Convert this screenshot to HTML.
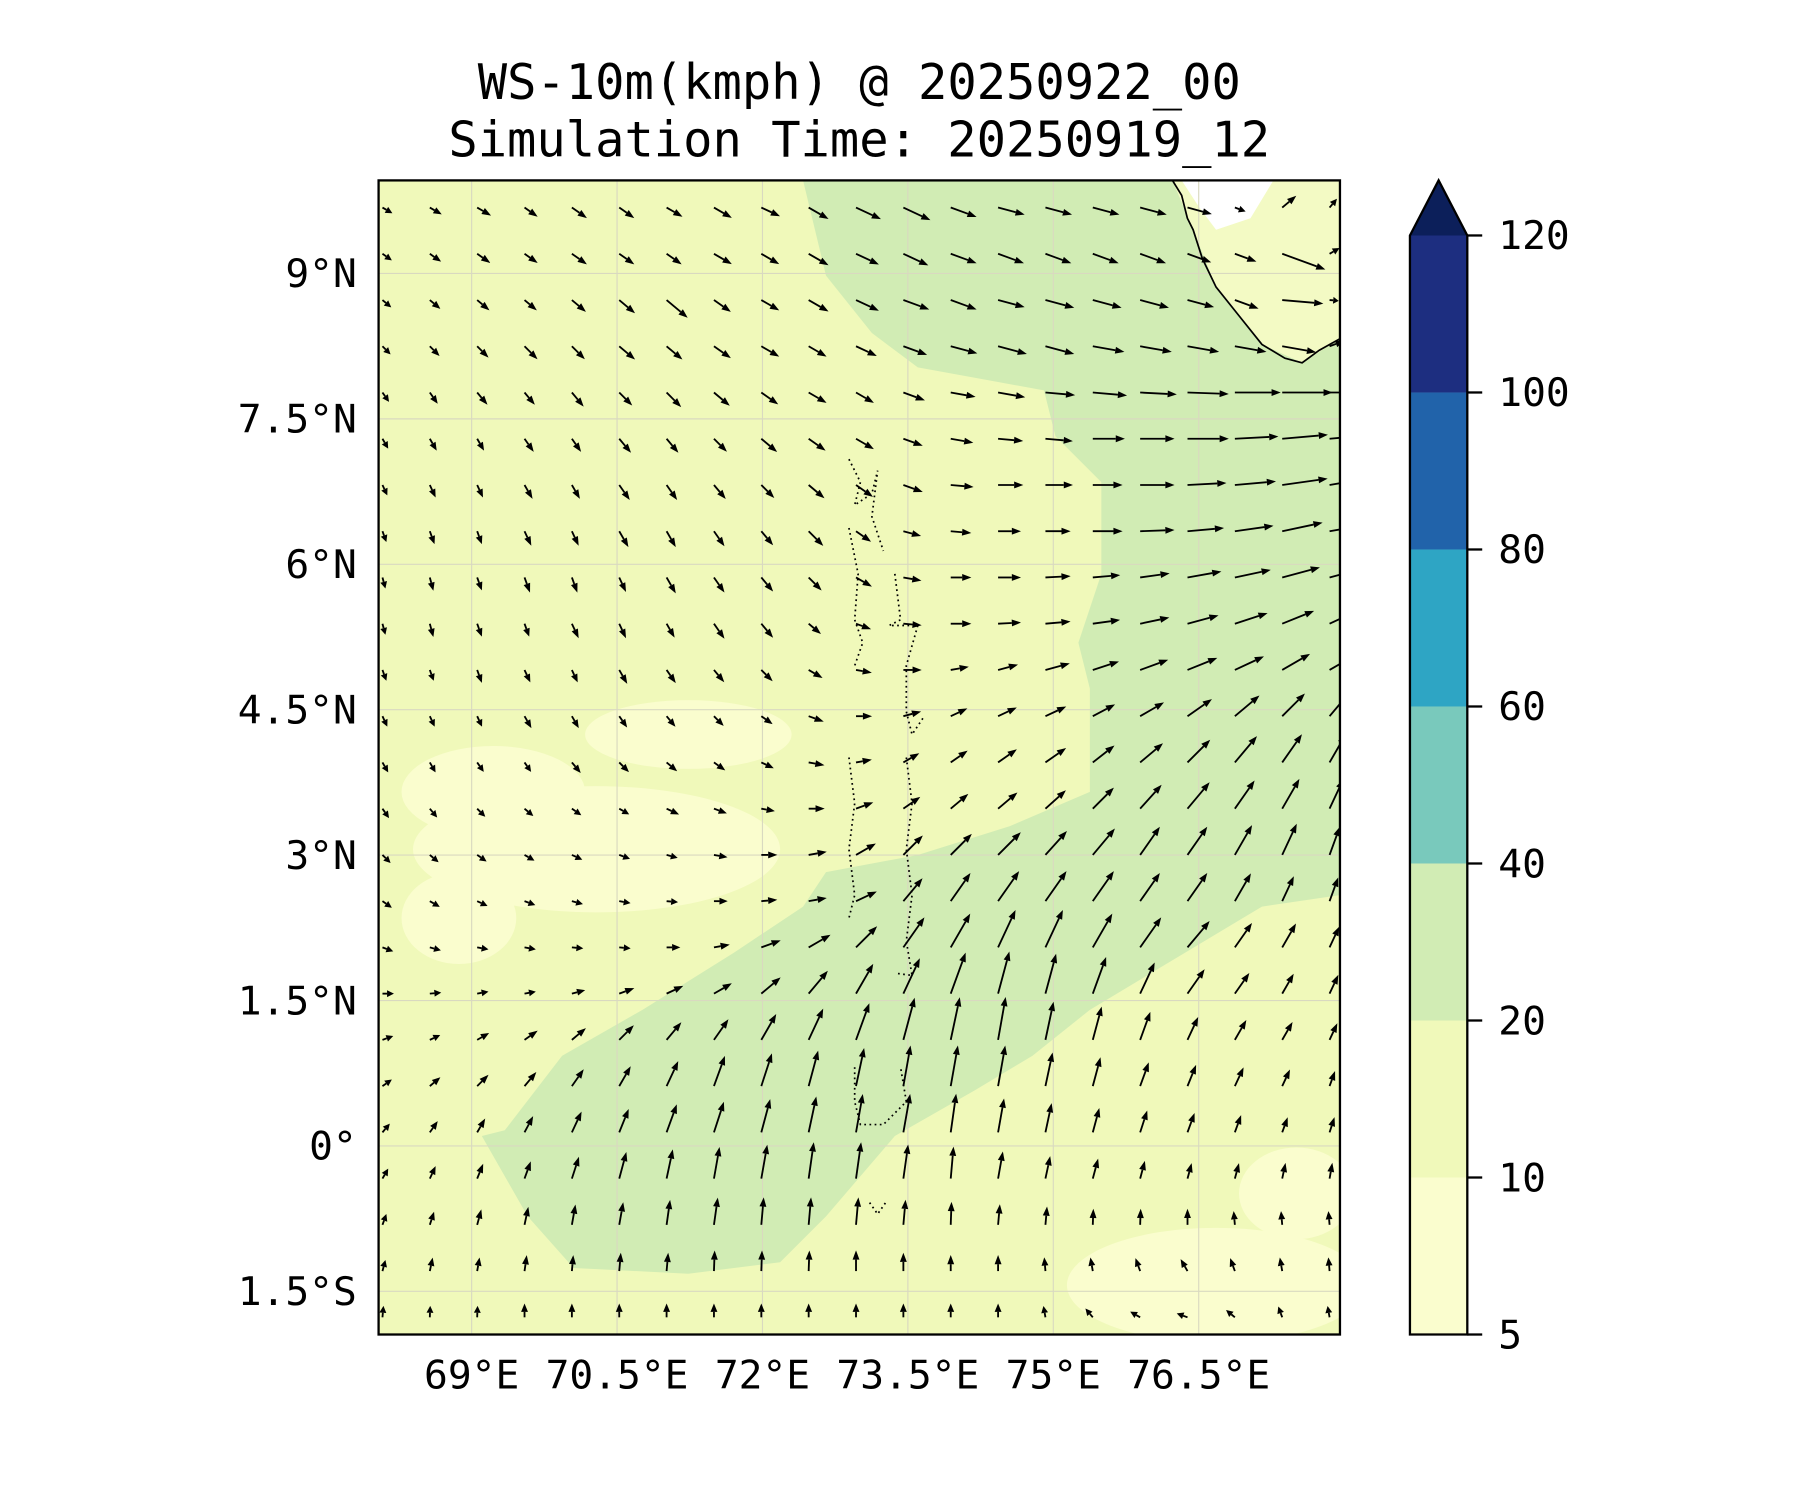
<!DOCTYPE html>
<html><head><meta charset="utf-8"><style>
html,body{margin:0;padding:0;background:#fff}
svg{display:block}
text{font-family:"DejaVu Sans Mono","Liberation Mono",monospace;fill:#000}
</style></head><body>
<svg id="chart" width="1800" height="1500" viewBox="0 0 1569 1307" xmlns="http://www.w3.org/2000/svg">
<text x="749" y="86" font-size="42.5" text-anchor="middle">WS-10m(kmph) @ 20250922_00</text>
<text x="749" y="136" font-size="42.5" text-anchor="middle">Simulation Time: 20250919_12</text>
<defs><clipPath id="mapclip"><rect x="330" y="157" width="838" height="1006"/></clipPath></defs>
<g id="map" clip-path="url(#mapclip)">
<rect x="330" y="157" width="838" height="1006" fill="#f0f9ba"/>
<g fill="#fafdce">
<ellipse cx="520" cy="740" rx="160" ry="55"/><ellipse cx="430" cy="690" rx="80" ry="40"/>
<ellipse cx="600" cy="640" rx="90" ry="30"/><ellipse cx="1060" cy="1120" rx="130" ry="50"/>
<ellipse cx="400" cy="800" rx="50" ry="40"/><ellipse cx="1130" cy="1040" rx="50" ry="40"/>
</g>
<polygon fill="#d1ecb4" points="700,157 1168,157 1168,780 1100,790 1000,850 950,880 900,920 850,950 780,990 720,1060 680,1100 600,1110 500,1105 460,1060 420,990 440,985 490,920 560,880 640,830 700,790 720,760 800,745 880,720 950,690 950,600 940,560 960,500 960,420 920,380 910,340 800,320 760,290 720,240"/>
<polygon fill="#f3fac4" points="1022,157 1168,157 1168,295 1135,316 1100,300 1060,250 1040,200"/>
<polygon fill="#ffffff" points="1030,157 1110,157 1090,190 1060,200 1045,180"/>
<g id="grid" stroke="#d9d9c0" stroke-width="1"></g>
<polyline fill="none" stroke="#000" stroke-width="1.5" points="1022,157 1030,170 1035,190 1040,200 1048,225 1060,250 1080,275 1100,300 1120,312 1135,316 1150,305 1168,295"/>
<g fill="none" stroke="#000" stroke-width="1.5" stroke-dasharray="1.5,3">
<polyline points="740,400 750,420 745,440 760,430 765,410 760,450 770,480"/>
<polyline points="740,460 748,500 745,540 752,560 745,580"/>
<polyline points="780,500 785,540 775,545 800,545 790,580 790,620 795,640 805,625"/>
<polyline points="740,660 745,700 740,740 745,780 740,800"/>
<polyline points="790,660 795,700 790,740 795,780 790,820 795,850 780,848"/>
<polyline points="745,930 745,960 750,980 770,980 790,960 785,930"/>
<polyline points="758,1048 765,1058 772,1048"/>
</g>
<g id="arrows"></g>
</g>
<rect x="330" y="157" width="838" height="1006" fill="none" stroke="#000" stroke-width="2"/>
<g id="axes"></g>
<g id="cbar"></g>
</svg>
<script>
const NS="http://www.w3.org/2000/svg";
const xTicks=[69,70.5,72,73.5,75,76.5];
const xTickLabels=["69°E","70.5°E","72°E","73.5°E","75°E","76.5°E"];
const yTicks=[9,7.5,6,4.5,3,1.5,0,-1.5];
const yTickLabels=["9°N","7.5°N","6°N","4.5°N","3°N","1.5°N","0°","1.5°S"];
const cbarLevels=[5,10,20,40,60,80,100,120];
const cbarColors=["#fafdce","#f0f9ba","#d1ecb4","#79c9bc","#2ea5c4","#2163aa","#1d2e80"];
const extendColor="#0c1f5a";
const windAngle=[
[-30,-30,-30,-35,-35,-35,-30,-30,-25,-30,-25,-25,-20,-15,-15,-15,-15,-15,-20,40,50],
[-35,-35,-35,-35,-35,-35,-35,-30,-30,-30,-25,-25,-20,-20,-20,-20,-20,-20,-20,-20,30],
[-40,-40,-40,-40,-40,-40,-40,-35,-30,-30,-25,-20,-20,-15,-15,-15,-15,-15,-20,-5,-5],
[-45,-45,-45,-45,-45,-40,-40,-35,-30,-30,-25,-20,-15,-15,-15,-10,-10,-10,-10,-10,20],
[-55,-55,-50,-50,-50,-45,-45,-40,-35,-30,-30,-20,-10,-10,-5,-5,-3,-2,0,0,0],
[-60,-60,-60,-55,-55,-50,-50,-45,-40,-35,-30,-20,-10,-5,-5,0,0,0,3,5,5],
[-65,-65,-65,-60,-60,-55,-55,-50,-45,-40,-35,-20,-5,0,0,0,0,3,5,8,10],
[-70,-70,-70,-65,-65,-60,-60,-55,-50,-45,-35,-15,-5,0,0,0,2,5,8,12,10],
[-75,-75,-70,-70,-70,-65,-60,-55,-50,-45,-30,-10,0,0,3,5,8,10,12,15,15],
[-75,-75,-70,-70,-65,-65,-60,-55,-50,-40,-20,-5,0,3,5,8,12,15,18,22,25],
[-70,-70,-70,-65,-65,-60,-55,-50,-45,-30,-10,0,10,15,15,18,20,22,25,30,30],
[-65,-65,-65,-60,-60,-55,-50,-45,-35,-20,0,15,25,25,25,28,30,35,40,45,50],
[-60,-60,-55,-55,-50,-45,-40,-35,-25,-10,10,30,35,35,35,38,40,45,50,55,60],
[-55,-50,-45,-40,-35,-30,-25,-20,-10,0,20,35,40,40,42,45,48,50,55,60,65],
[-45,-40,-35,-30,-25,-20,-15,-10,0,10,30,45,45,45,48,50,55,55,60,65,70],
[-35,-30,-25,-20,-15,-10,-5,0,5,10,25,50,55,55,55,55,55,55,60,65,70],
[-20,-15,-10,-10,-5,-5,0,10,20,30,45,55,60,65,65,60,55,50,55,60,65],
[0,5,10,10,15,20,25,30,40,50,60,65,70,75,75,70,65,55,55,60,65],
[20,25,30,35,40,45,50,55,60,65,70,75,78,80,78,75,70,65,60,60,65],
[35,40,45,50,55,60,65,70,72,75,78,80,80,80,78,75,70,68,65,65,70],
[50,55,60,62,65,68,70,72,75,78,80,80,82,80,78,75,72,70,70,70,72],
[60,65,68,70,72,75,78,80,80,82,82,82,85,80,78,75,75,75,75,78,80],
[70,72,75,78,80,80,82,82,85,85,85,85,88,85,85,88,88,90,95,95,95],
[75,78,80,82,85,85,85,88,88,88,90,90,90,90,95,100,110,120,110,100,95],
[85,88,88,90,90,90,90,90,90,90,90,90,90,90,100,130,150,160,140,110,100]];
const windLen=[
[10,12,14,14,16,16,16,18,18,20,24,26,24,24,24,24,24,22,10,16,10],
[10,12,14,14,16,16,16,18,18,20,22,24,24,24,24,24,24,22,20,40,10],
[10,12,14,14,16,18,24,18,18,20,22,24,24,24,26,26,26,24,22,36,8],
[10,12,14,16,16,18,18,18,18,18,20,22,24,26,26,28,28,28,28,30,14],
[10,12,14,14,16,16,18,18,18,18,18,20,22,24,26,30,32,36,40,44,36],
[10,12,12,14,14,16,16,16,18,18,18,18,20,22,24,28,30,36,38,40,34],
[10,12,12,14,14,16,16,16,16,18,18,18,20,22,24,26,30,34,36,40,34],
[10,12,12,14,14,16,16,16,16,18,16,16,18,20,22,26,30,32,34,36,30],
[10,12,12,14,14,14,16,16,16,16,16,16,18,20,22,24,26,30,32,34,30],
[10,12,12,12,14,14,14,16,16,14,14,16,18,20,22,24,26,28,30,30,28],
[10,10,12,12,12,14,14,14,14,14,14,16,16,18,22,24,26,28,28,28,26],
[10,10,10,12,12,12,12,12,12,14,14,16,16,18,20,22,24,26,28,28,28],
[10,10,10,10,12,12,12,12,12,14,14,16,18,20,22,24,26,28,30,30,28],
[10,10,10,10,10,10,12,12,12,14,16,18,20,22,24,26,28,30,30,30,28],
[10,10,10,10,10,10,10,12,14,16,20,24,26,28,28,30,30,30,30,30,26],
[10,10,10,10,10,10,10,12,14,16,20,26,30,32,32,32,30,30,28,24,22],
[10,10,10,10,10,10,12,14,18,22,26,32,34,36,36,34,32,30,26,24,20],
[10,10,10,10,12,14,16,18,22,26,30,34,38,38,36,34,30,26,22,20,18],
[10,10,12,14,16,18,20,22,26,30,34,38,38,38,34,30,26,22,20,18,16],
[10,12,14,16,18,20,24,28,30,32,34,36,36,36,30,26,22,20,18,16,14],
[10,12,14,16,20,22,26,28,30,32,34,34,34,30,26,22,20,18,16,14,14],
[10,12,14,16,20,24,26,28,30,32,32,30,28,24,20,18,16,14,14,14,14],
[10,12,14,16,18,20,22,24,24,24,24,22,20,18,16,14,14,14,12,12,12],
[10,12,12,14,14,16,16,18,18,18,18,16,14,14,12,12,12,12,12,12,12],
[10,10,10,12,12,12,12,12,12,12,12,12,12,12,10,10,10,10,10,10,10]];

const X0=330,X1=1168,Y0=157,Y1=1163,LON0=68.04,LAT0=9.96,PX=84.5;
const xs=lon=>X0+(lon-LON0)*PX;
const ys=lat=>Y0+(LAT0-lat)*PX;
const gridLon=i=>68.08+i*0.4885;
const gridLat=j=>9.68-j*0.477;
const cbY=v=>{const i=cbarLevels.indexOf(v);return 1163-i*(1163-205)/7;};

function mk(tag,attrs,parent){const e=document.createElementNS(NS,tag);for(const k in attrs)e.setAttribute(k,attrs[k]);parent.appendChild(e);return e;}

const grid=document.getElementById('grid');
xTicks.forEach(v=>{const l=mk('line',{x1:xs(v),x2:xs(v),y1:Y0,y2:Y1},grid);

});
yTicks.forEach(v=>{const l=mk('line',{x1:X0,x2:X1,y1:ys(v),y2:ys(v)},grid);

});

const arrows=document.getElementById('arrows');
windAngle.forEach((row,j)=>row.forEach((a,i)=>{
  const L=windLen[j][i];const r=a*Math.PI/180;
  const x=xs(gridLon(i)),y=ys(gridLat(j));
  const dx=Math.cos(r),dy=-Math.sin(r);
  const tx=x+dx*L,ty=y+dy*L,h=Math.min(8,L*0.6),w=3;
  const bx=tx-dx*h,by=ty-dy*h;
  const g=mk('g',{},arrows);
  
  
  mk('line',{x1:x,y1:y,x2:bx,y2:by,stroke:'#000','stroke-width':1.6},g);
  mk('polygon',{points:`${tx},${ty} ${bx-dy*w},${by+dx*w} ${bx+dy*w},${by-dx*w}`,fill:'#000'},g);
}));

const axes=document.getElementById('axes');
xTicks.forEach((v,i)=>{const t=mk('text',{x:xs(v),y:1210,'font-size':34.5,'text-anchor':'middle'},axes);t.textContent=xTickLabels[i];

});
yTicks.forEach((v,i)=>{const t=mk('text',{x:311,y:ys(v)+12,'font-size':34.5,'text-anchor':'end'},axes);t.textContent=yTickLabels[i];

});

const cb=document.getElementById('cbar');
for(let i=0;i<cbarColors.length;i++){
  const r=mk('rect',{x:1229,y:cbY(cbarLevels[i+1]),width:50,height:cbY(cbarLevels[i])-cbY(cbarLevels[i+1]),fill:cbarColors[i]},cb);
  
  
}
const tri=mk('polygon',{points:`1229,${cbY(120)} 1254,157 1279,${cbY(120)}`,fill:extendColor},cb);


mk('polygon',{points:`1229,1163 1229,${cbY(120)} 1254,157 1279,${cbY(120)} 1279,1163`,fill:'none',stroke:'#000','stroke-width':2},cb);
cbarLevels.forEach(v=>{
  mk('line',{x1:1279,x2:1292,y1:cbY(v),y2:cbY(v),stroke:'#000','stroke-width':2},cb);
  const t=mk('text',{x:1306,y:cbY(v)+12,'font-size':34.5},cb);t.textContent=v;
  
  
});
</script>
</body></html>
